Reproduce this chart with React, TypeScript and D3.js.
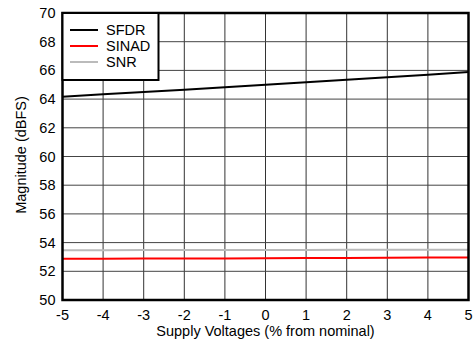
import React from "react";
import * as d3 from "d3";

const xValues = [-5, -4, -3, -2, -1, 0, 1, 2, 3, 4, 5];
const sfdr = [64.17, 64.33, 64.5, 64.66, 64.83, 65.0, 65.18, 65.35, 65.52, 65.7, 65.88];
const sinad = [52.88, 52.88, 52.89, 52.89, 52.9, 52.91, 52.92, 52.93, 52.94, 52.96, 52.97];
const snr = [53.47, 53.47, 53.48, 53.48, 53.48, 53.49, 53.49, 53.5, 53.5, 53.51, 53.51];
const xTicks = [-5, -4, -3, -2, -1, 0, 1, 2, 3, 4, 5];
const yTicks = [50, 52, 54, 56, 58, 60, 62, 64, 66, 68, 70];
const seriesNames = ["SFDR", "SINAD", "SNR"];
const seriesColors = ["#000000", "#ff0000", "#bbbbbb"];

export default function App() {
  const W = 475, H = 345;
  const left = 62.5, right = 468.5, top = 13, bottom = 300;
  const x = d3.scaleLinear().domain([-5, 5]).range([left, right]);
  const y = d3.scaleLinear().domain([50, 70]).range([bottom, top]);
  const line = d3.line<[number, number]>().x(d => x(d[0])).y(d => y(d[1]));
  const font = "'Liberation Sans', Arial, sans-serif";
  const fs = 14.5;
  return (
    <svg width={W} height={H} style={{ position: "absolute", left: 0, top: 0 }} fontFamily={font}>
      <rect width={W} height={H} fill="#fff" />
      {xTicks.map(t => (
        <line key={"gx" + t} x1={x(t)} x2={x(t)} y1={top} y2={bottom} stroke="#333" strokeWidth={1} />
      ))}
      {yTicks.map(t => (
        <line key={"gy" + t} x1={left} x2={right} y1={y(t)} y2={y(t)} stroke="#444" strokeWidth={1} />
      ))}
      {[snr, sinad, sfdr].map((s, i) => {
        const idx = [2, 1, 0][i];
        return (
          <path key={"s" + idx} d={line(xValues.map((v, j) => [v, s[j]]) as [number, number][]) || ""}
            fill="none" stroke={seriesColors[idx]} strokeWidth={2} />
        );
      })}
      <rect x={left} y={top} width={right - left} height={bottom - top} fill="none" stroke="#000" strokeWidth={2.5} />
      <rect x={left} y={top} width={96} height={67} fill="#fff" stroke="#000" strokeWidth={2} />
      {seriesNames.map((n, i) => (
        <g key={n}>
          <line x1={70} x2={98} y1={30 + i * 16} y2={30 + i * 16} stroke={seriesColors[i]} strokeWidth={2} />
          <text x={106} y={30 + i * 16 + 5} fontSize={fs} fill="#000">{n}</text>
        </g>
      ))}
      {yTicks.map(t => (
        <text key={"yl" + t} x={left - 7} y={y(t) + 5} fontSize={fs} textAnchor="end" fill="#000">{t}</text>
      ))}
      {xTicks.map(t => (
        <text key={"xl" + t} x={x(t)} y={bottom + 20} fontSize={fs} textAnchor="middle" fill="#000">{t}</text>
      ))}
      <text x={(left + right) / 2} y={bottom + 36} fontSize={fs} textAnchor="middle" fill="#000">Supply Voltages (% from nominal)</text>
      <text transform={`translate(26,155) rotate(-90)`} fontSize={fs} textAnchor="middle" fill="#000">Magnitude (dBFS)</text>
    </svg>
  );
}
